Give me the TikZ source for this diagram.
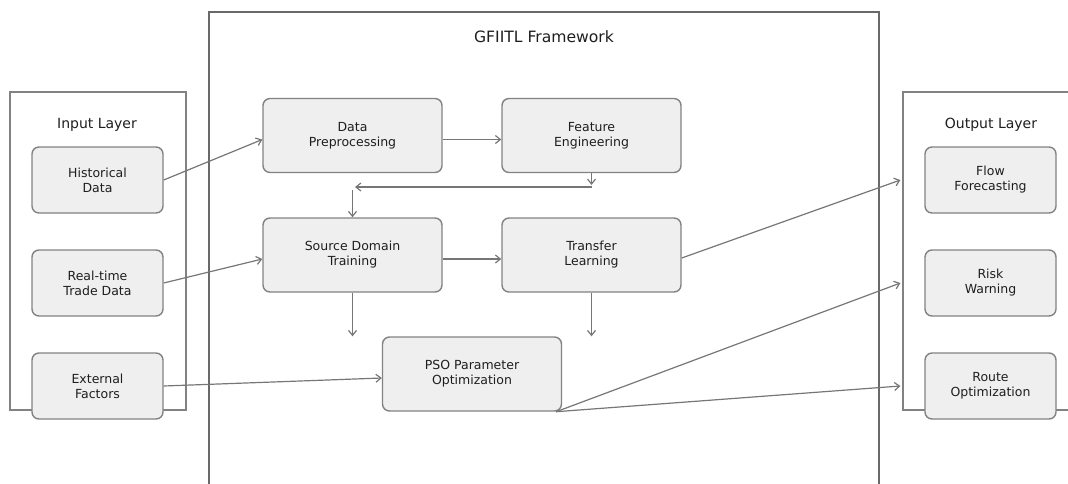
\documentclass[tikz,border=0pt]{standalone}
\usepackage{fontspec}
\setmainfont{DejaVu Sans}
\usetikzlibrary{arrows.meta,positioning,calc}
\definecolor{BOX-FILL}{RGB}{239,239,239}
\definecolor{BOX-EDGE}{RGB}{130,130,130}
\definecolor{FRAME-EDGE}{RGB}{105,105,105}
\definecolor{ARROW-GRAY}{RGB}{118,118,118}
\definecolor{TEXT-DARK}{RGB}{30,30,30}

\begin{document}
\begin{tikzpicture}[x=1pt, y=-1pt,
  block/.style={draw=BOX-EDGE, fill=BOX-FILL, line width=1.4pt, rounded corners=7pt,
    minimum width=179pt, minimum height=74pt, inner sep=0pt, align=center,
    text=TEXT-DARK, font=\fontsize{12.5}{15}\selectfont},
  io/.style={block, minimum width=131pt, minimum height=66pt},
  layer/.style={draw=BOX-EDGE, line width=1.2pt, inner sep=0pt},
  heading/.style={text=TEXT-DARK, font=\fontsize{14}{16}\selectfont},
  flow/.style={draw=ARROW-GRAY, line width=1.2pt, -{Straight Barb[length=5pt,width=8pt]}}]
  \clip (0,0) rectangle (1068,483);

  % Framework frame
  \node[layer, draw=FRAME-EDGE, line width=1.8pt, minimum width=670pt, minimum height=490pt] (frame) at (544,257) {};
  \node[heading, font=\fontsize{15.6}{18}\selectfont] (frametitle) at (544,37) {GFIITL Framework};

  % Input layer
  \node[layer, minimum width=176pt, minimum height=318pt] (inlayer) at (98,251) {};
  \node[heading] (intitle) at (97,124.5) {Input Layer};
  \node[io] (hist) at (97.5,180) {Historical\\Data};
  \node[io] (real) at (97.5,283) {Real-time\\Trade Data};
  \node[io] (ext) at (97.5,386) {External\\Factors};

  % Output layer
  \node[layer, minimum width=176pt, minimum height=318pt] (outlayer) at (991,251) {};
  \node[heading] (outtitle) at (991,124.5) {Output Layer};
  \node[io] (flowcast) at (990.5,180) {Flow\\Forecasting};
  \node[io] (risk) at (990.5,283) {Risk\\Warning};
  \node[io] (route) at (990.5,386) {Route\\Optimization};

  % Framework stages
  \node[block] (prep) at (352.5,135.5) {Data\\Preprocessing};
  \node[block] (feat) at (591.5,135.5) {Feature\\Engineering};
  \node[block] (src) at (352.5,255) {Source Domain\\Training};
  \node[block] (trans) at (591.5,255) {Transfer\\Learning};
  \node[block] (pso) at (472,374) {PSO Parameter\\Optimization};

  % Free ends
  \coordinate (featdrop) at (591.5,185);
  \coordinate (backright) at (591.5,187);
  \coordinate (backleft) at (355,187);
  \coordinate (srcdrop) at (352.5,190);
  \coordinate (psocorner) at ([xshift=-6pt]pso.south east);

  % Inputs into the framework
  \draw[flow] (hist.east) -- ([yshift=-4pt]prep.west);
  \draw[flow] (real.east) -- ([yshift=-4pt]src.west);
  \draw[flow] (ext.east) -- ([yshift=-4pt]pso.west);

  % Inside the framework
  \draw[flow] ([yshift=-4pt]prep.east) -- ([yshift=-4pt]feat.west);
  \draw[flow] (feat.south) -- (featdrop);
  \draw[flow] (backright) -- (backleft);
  \draw[flow] (srcdrop) -- (src.north);
  \draw[flow] ([yshift=-4pt]src.east) -- ([yshift=-4pt]trans.west);
  \draw[flow] (src.south) -- (src.south |- pso.north);
  \draw[flow] (trans.south) -- (trans.south |- pso.north);

  % Outputs
  \draw[flow] ([yshift=-3pt]trans.east) -- ([xshift=-2pt]outlayer.west |- flowcast);
  \draw[flow] (psocorner) -- ([xshift=-2pt]outlayer.west |- risk);
  \draw[flow] (psocorner) -- ([xshift=-2pt]outlayer.west |- route);
\end{tikzpicture}
\end{document}
